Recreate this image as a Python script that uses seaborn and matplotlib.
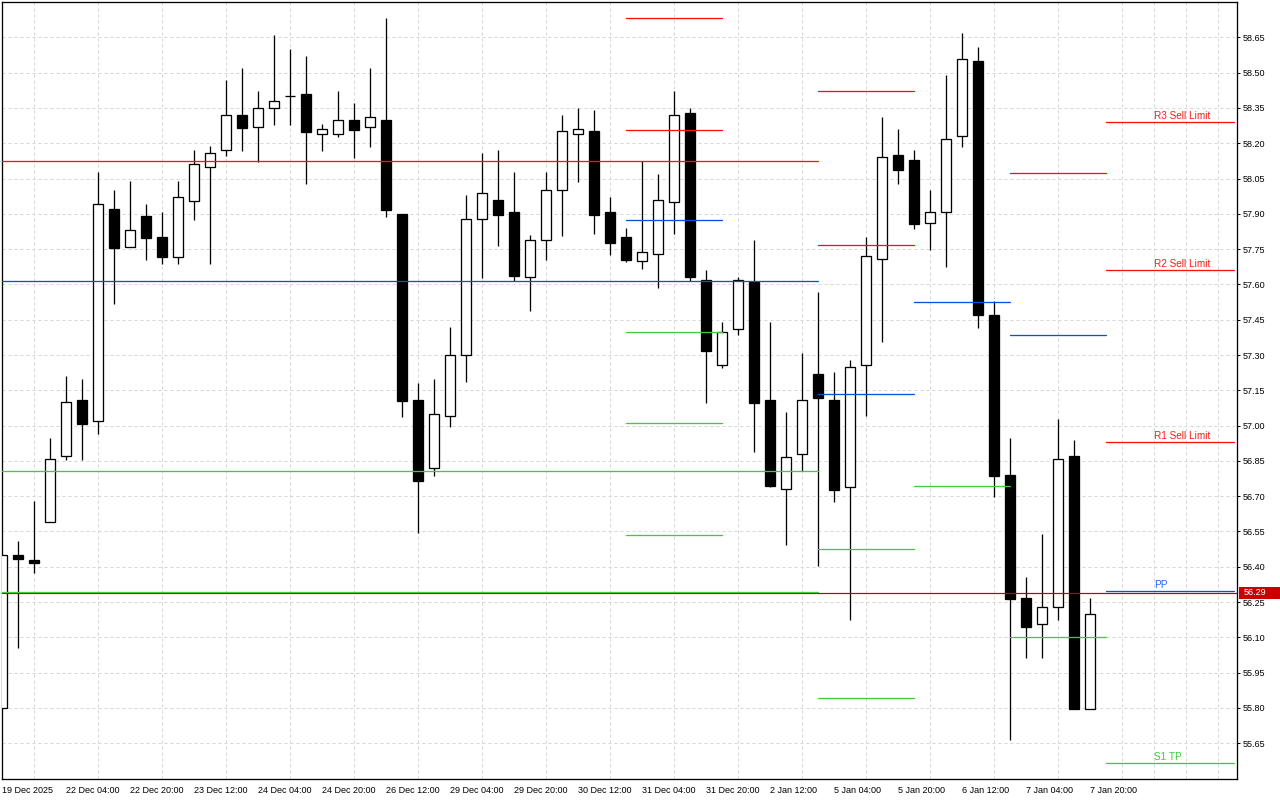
import numpy as np
import pandas as pd
import matplotlib
matplotlib.use("Agg")
import matplotlib.pyplot as plt
import matplotlib.transforms as mtransforms
from matplotlib.patches import Rectangle
import seaborn as sns

# ---------------- data (H4 candles) ----------------
opens = [55.80, 56.448, 56.429, 56.589, 56.869, 57.109, 57.018, 57.92, 57.757, 57.891,
         57.801, 57.718, 57.956, 58.098, 58.17, 58.318, 58.268, 58.348, 58.399, 58.409,
         58.238, 58.238, 58.297, 58.268, 58.299, 57.899, 57.109, 56.818, 57.039, 57.30,
         57.877, 57.957, 57.908, 57.63, 57.788, 58.0, 58.238, 58.25, 57.908, 57.801,
         57.698, 57.728, 57.949, 58.328, 57.617, 57.256, 57.409, 57.611, 57.109, 56.729,
         56.878, 57.219, 57.109, 56.738, 57.256, 57.707, 58.15, 58.128, 57.86, 57.906,
         58.229, 58.548, 57.469, 56.789, 56.266, 56.155, 56.228, 56.871, 55.797]
highs = [56.45, 56.509, 56.679, 56.947, 57.21, 57.198, 58.078, 58.001, 58.039, 57.942,
         57.908, 58.039, 58.171, 58.188, 58.468, 58.52, 58.422, 58.66, 58.60, 58.571,
         58.282, 58.422, 58.37, 58.52, 58.732, 57.899, 57.181, 57.198, 57.419, 57.98,
         58.158, 58.171, 58.078, 57.81, 58.078, 58.318, 58.348, 58.34, 57.971, 57.84,
         58.124, 58.069, 58.422, 58.348, 57.661, 57.44, 57.63, 57.789, 57.44, 57.058,
         57.308, 57.566, 57.228, 57.279, 57.801, 58.311, 58.26, 58.171, 58.001, 58.49,
         58.668, 58.609, 57.529, 56.947, 56.356, 56.539, 57.028, 56.939, 56.266]
lows = [55.80, 56.056, 56.373, 56.589, 56.855, 56.855, 56.965, 57.518, 57.757, 57.705,
        57.688, 57.688, 57.874, 57.688, 58.147, 58.168, 58.119, 58.279, 58.279, 58.028,
        58.168, 58.228, 58.138, 58.185, 57.888, 57.038, 56.545, 56.787, 56.995, 57.186,
        57.628, 57.763, 57.616, 57.488, 57.705, 57.807, 58.036, 57.815, 57.726, 57.696,
        57.667, 57.586, 57.815, 57.616, 57.097, 57.246, 57.386, 56.886, 56.738, 56.492,
        56.807, 56.404, 56.676, 56.175, 57.041, 57.356, 58.028, 57.837, 57.747, 57.675,
        58.185, 57.416, 56.698, 55.665, 56.013, 56.013, 56.175, 55.797, 55.797]
closes = [56.45, 56.435, 56.417, 56.857, 57.10, 57.008, 57.94, 57.756, 57.83, 57.798,
          57.718, 57.97, 58.11, 58.157, 58.318, 58.266, 58.348, 58.378, 58.401, 58.249,
          58.259, 58.297, 58.257, 58.31, 57.916, 57.106, 56.766, 57.048, 57.30, 57.877,
          57.987, 57.896, 57.637, 57.789, 58.0, 58.25, 58.259, 57.896, 57.777, 57.705,
          57.736, 57.957, 58.318, 57.63, 57.318, 57.396, 57.617, 57.097, 56.744, 56.868,
          57.108, 57.116, 56.727, 57.248, 57.719, 58.14, 58.087, 57.858, 57.906, 58.217,
          58.557, 57.469, 56.787, 56.264, 56.145, 56.228, 56.857, 55.797, 56.198]

x_tick_labels = ["19 Dec 2025", "22 Dec 04:00", "22 Dec 20:00", "23 Dec 12:00",
                 "24 Dec 04:00", "24 Dec 20:00", "26 Dec 12:00", "29 Dec 04:00",
                 "29 Dec 20:00", "30 Dec 12:00", "31 Dec 04:00", "31 Dec 20:00",
                 "2 Jan 12:00", "5 Jan 04:00", "5 Jan 20:00", "6 Jan 12:00",
                 "7 Jan 04:00", "7 Jan 20:00"]
x_tick_step = 4

y_ticks = [55.65, 55.80, 55.95, 56.10, 56.25, 56.40, 56.55, 56.70, 56.85, 57.00, 57.15,
           57.30, 57.45, 57.60, 57.75, 57.90, 58.05, 58.20, 58.35, 58.50, 58.65]

# pivot level segments (start bar, end bar, price, kind)
seg_start = [0, 0, 0, 0,
             39, 39, 39, 39, 39, 39,
             51, 51, 51, 51, 51,
             57, 57,
             63, 63, 63,
             69, 69, 69, 69, 69]
seg_end = [51, 51, 51, 51,
           45, 45, 45, 45, 45, 45,
           57, 57, 57, 57, 57,
           63, 63,
           69, 69, 69,
           77, 77, 77, 77, 77]
seg_price = [58.123, 57.613, 56.806, 56.291,
             58.731, 58.255, 57.872, 57.396, 57.010, 56.534,
             58.422, 57.766, 57.133, 56.474, 55.841,
             57.524, 56.742,
             58.072, 57.383, 56.100,
             58.289, 57.660, 56.929, 56.295, 55.565]
seg_kind = ["R", "P", "S", "S",
            "R", "R", "P", "S", "S", "S",
            "R", "R", "P", "S", "S",
            "P", "S",
            "R", "P", "S",
            "R", "R", "R", "P", "S"]

level_labels = ["R3 Sell Limit", "R2 Sell Limit", "R1 Sell Limit", "PP", "S1 TP"]
level_label_prices = [58.289, 57.660, 56.929, 56.295, 55.565]
level_label_kinds = ["R", "R", "R", "P", "S"]
level_label_bar = 72.0

current_price = 56.29

# ---------------- style ----------------
sns.set_theme(style="white")
plt.rcParams['font.family'] = ['Liberation Sans', 'DejaVu Sans']

RED = "#ff1010"
BLUE = "#0a50d8"
GREEN = "#3ccc3c"
kind_colors = {"R": RED, "P": BLUE, "S": GREEN}
label_colors = {"R": "#ff1a1a", "P": "#1e64ff", "S": "#3ccc3c"}
PX = 0.72  # one pixel in points at 100 dpi

fig = plt.figure(figsize=(12.8, 8), dpi=100)
fig.patch.set_facecolor("white")
ax = fig.add_axes([2.3 / 1280, 21 / 800, 1235 / 1280, 776.7 / 800])
ax.set_facecolor("white")

n = len(opens)
x = np.arange(n)
o = np.array(opens)
c = np.array(closes)
h = np.array(highs)
l = np.array(lows)
up = c >= o
bottom = np.minimum(o, c)
height = np.abs(c - o)

# wicks
ax.vlines(x, l, h, color="black", linewidth=PX * 1.3, zorder=2)
# bodies
ax.bar(x[up], height[up], bottom=bottom[up], width=0.6, facecolor="white",
       edgecolor="black", linewidth=PX * 1.3, zorder=3)
ax.bar(x[~up], height[~up], bottom=bottom[~up], width=0.6, facecolor="black",
       edgecolor="black", linewidth=PX * 1.3, zorder=3)

# current price line
ax.axhline(current_price, color="#c00000", linewidth=PX * 1.2, zorder=3.5)

# pivot levels via seaborn
rows = []
for i, (s, e, p, k) in enumerate(zip(seg_start, seg_end, seg_price, seg_kind)):
    rows.append({"bar": s, "price": p, "seg": i, "kind": k})
    rows.append({"bar": e, "price": p, "seg": i, "kind": k})
lev = pd.DataFrame(rows)
sns.lineplot(data=lev, x="bar", y="price", units="seg", hue="kind", palette=kind_colors,
             estimator=None, legend=False, linewidth=PX * 1.3, ax=ax, zorder=4)

for txt, p, k in zip(level_labels, level_label_prices, level_label_kinds):
    ax.annotate(txt, xy=(level_label_bar, p), xytext=(0, 2.2), textcoords="offset points",
                ha="left", va="baseline", color=label_colors[k], fontsize=7.2, zorder=5)

# axes limits
ax.set_xlim(0, 77.19)
ax.set_ylim(55.498, 58.799)

# x ticks
xt = list(range(0, x_tick_step * len(x_tick_labels), x_tick_step))
ax.set_xticks(xt)
ax.set_xticklabels(x_tick_labels, ha="left")
ax.set_xticks(list(range(0, 78, 2)), minor=True)
ax.tick_params(axis="x", which="major", direction="out", length=2.3, width=PX,
               color="black", labelsize=6.5, pad=2.5, labelcolor="black")
ax.tick_params(axis="x", which="minor", length=0)

# y ticks on right
ax.yaxis.tick_right()
ax.set_yticks(y_ticks)
ax.set_yticklabels([f"{v:.2f}" for v in y_ticks])
ax.tick_params(axis="y", which="major", direction="out", length=2.3, width=PX,
               color="black", labelsize=6.5, pad=1.5, labelcolor="black")
ax.set_xlabel("")
ax.set_ylabel("")

# grid
ax.grid(False)
ax.xaxis.grid(True, which="minor", color="#d6d6d6", linestyle=(0, (3, 3)), linewidth=PX)
ax.yaxis.grid(True, which="major", color="#d6d6d6", linestyle=(0, (3, 3)), linewidth=PX)
ax.set_axisbelow(True)

for sp in ax.spines.values():
    sp.set_color("black")
    sp.set_linewidth(PX * 1.3)
    sp.set_visible(True)

# current price tag on the axis
trans = mtransforms.blended_transform_factory(ax.transAxes, ax.transData)
ax.add_patch(Rectangle((1.0016, current_price - 0.0255), 0.034, 0.051, transform=trans,
                       facecolor="#c80000", edgecolor="none", clip_on=False, zorder=6))
ax.text(1.0049, current_price, f"{current_price:.2f}", transform=trans, ha="left",
        va="center", color="white", fontsize=6.5, zorder=7, clip_on=False)

fig.savefig("out.png", dpi=100, facecolor="white")
